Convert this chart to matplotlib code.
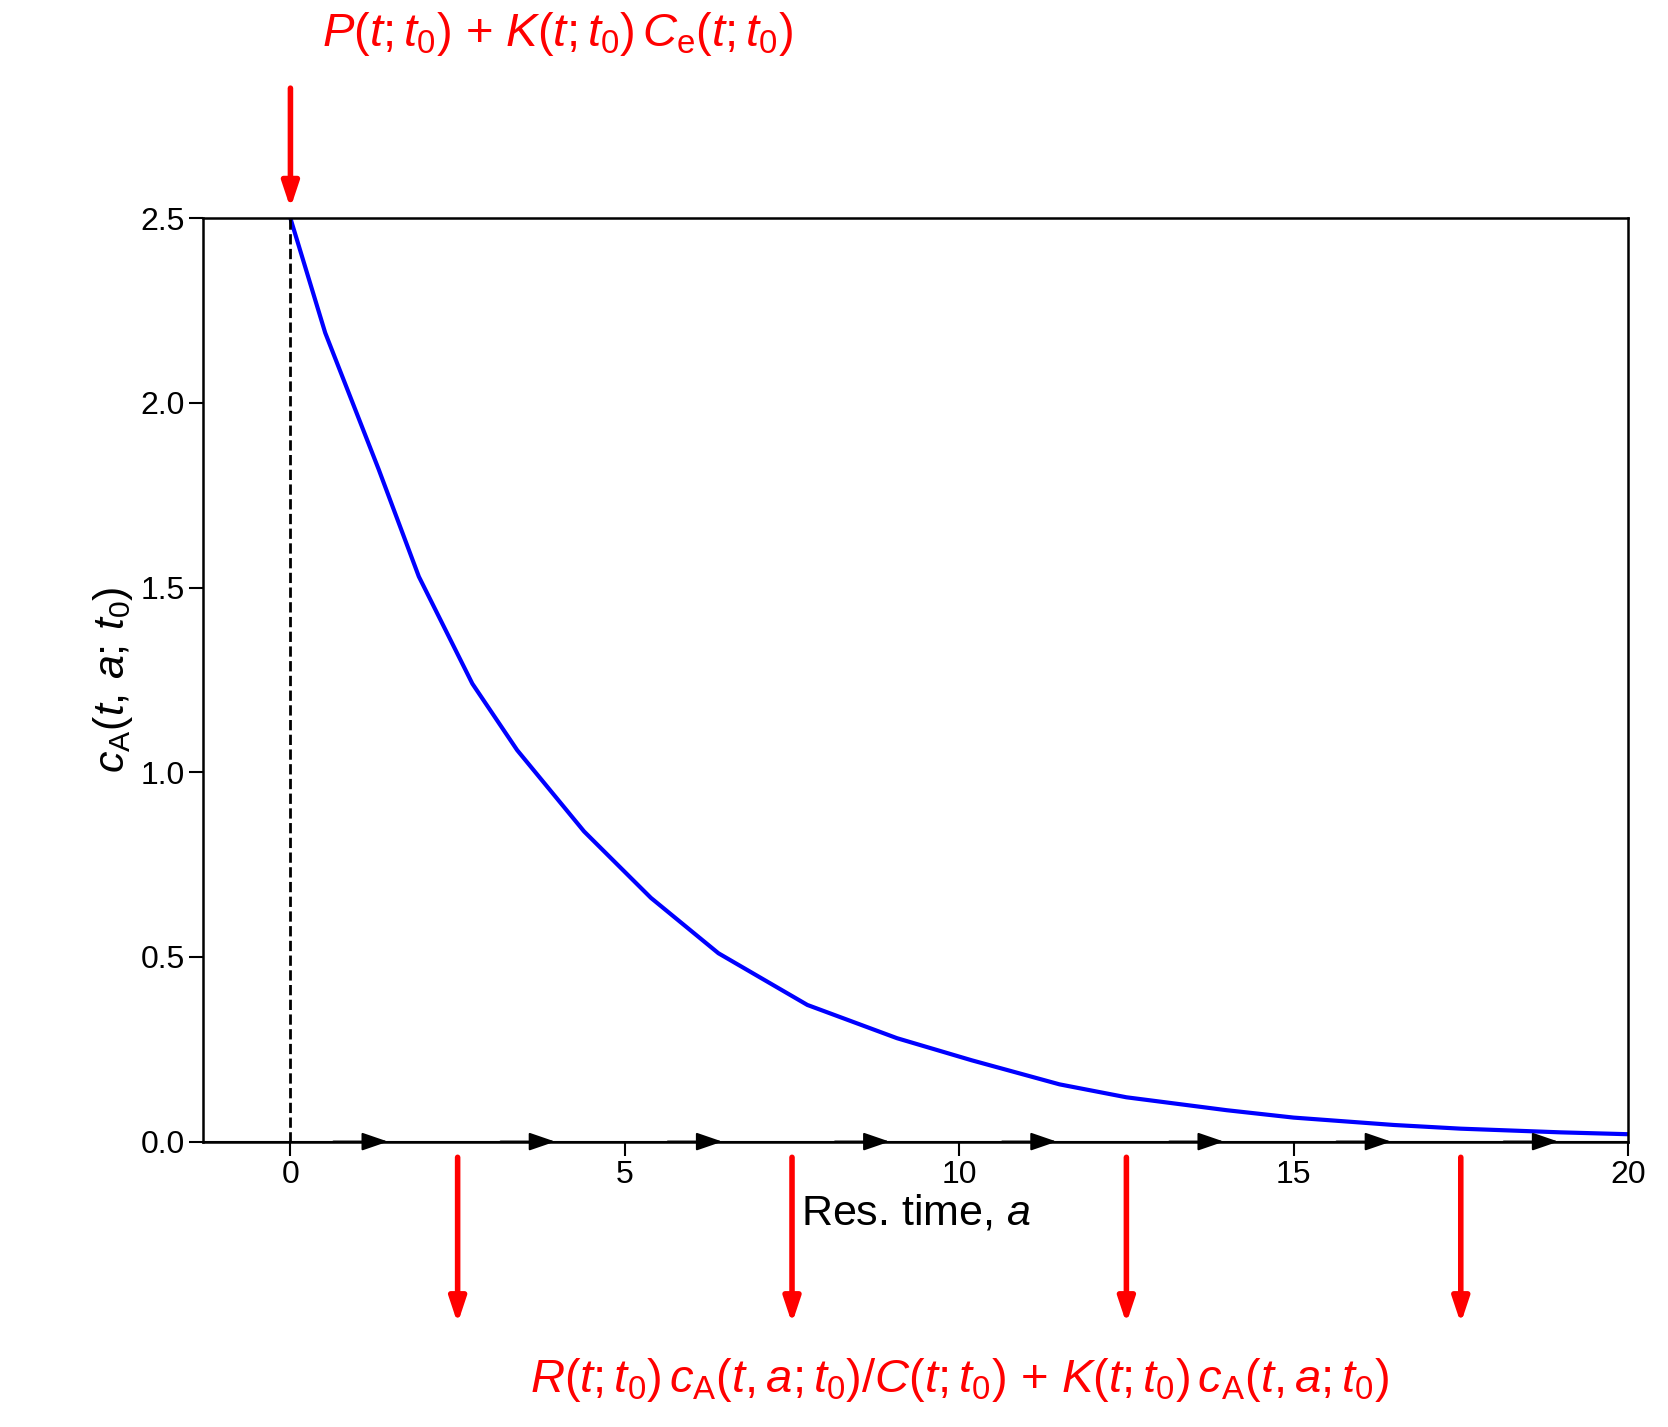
import matplotlib
matplotlib.use("Agg")
import matplotlib.pyplot as plt

plt.rcParams['font.family'] = 'Liberation Sans'
plt.rcParams['mathtext.fontset'] = 'custom'
plt.rcParams['mathtext.rm'] = 'Liberation Sans'
plt.rcParams['mathtext.it'] = 'Liberation Sans:italic'

res_time = [0, 0.52, 1.32, 1.92, 2.72, 3.39, 4.39, 5.39, 6.40, 7.73, 9.07, 10.19, 11.5, 12.5, 14.0, 15.0, 16.5, 17.5, 19.0, 20.0]
conc     = [2.5, 2.19, 1.82, 1.53, 1.24, 1.06, 0.84, 0.66, 0.51, 0.37, 0.28, 0.22, 0.155, 0.12, 0.085, 0.065, 0.045, 0.035, 0.025, 0.02]
flow_arrow_tips = [1.5, 4.0, 6.5, 9.0, 11.5, 14.0, 16.5, 19.0]
loss_arrow_x = [2.5, 7.5, 12.5, 17.5]

fig = plt.figure(figsize=(16.68, 14.27), dpi=100)
ax = fig.add_axes([0.122, 0.200, 0.854, 0.647])
ax.plot(res_time, conc, color='blue', lw=3)
ax.plot([0, 0], [0, 2.5], 'k--', lw=2)
ax.axhline(0, color='k', lw=1.5)
ax.set_xlim(-1.3, 20)
ax.set_ylim(0, 2.5)
ax.set_xticks([0, 5, 10, 15, 20])
ax.set_yticks([0, 0.5, 1.0, 1.5, 2.0, 2.5])
ax.set_yticklabels(['0.0', '0.5', '1.0', '1.5', '2.0', '2.5'])
ax.tick_params(labelsize=23, length=10, width=1.5)
for s in ax.spines.values():
    s.set_linewidth(1.8)
ax.set_xlabel('Res. time, $a$', fontsize=31, labelpad=2)
ax.set_ylabel(r'$c_\mathrm{A}(t,\, a;\, t_0)$', fontsize=31)

for tip in flow_arrow_tips:
    ax.annotate('', xy=(tip, 0), xytext=(tip - 0.9, 0),
                arrowprops=dict(arrowstyle='-|>,head_length=1.6,head_width=0.55', color='k', lw=1.5))

red = dict(arrowstyle='-|>,head_length=1.5,head_width=0.5', color='red', lw=4)
ax.annotate('', xy=(0, 2.52), xytext=(0, 2.86), arrowprops=red, annotation_clip=False)
for xv in loss_arrow_x:
    ax.annotate('', xy=(xv, -0.5), xytext=(xv, -0.035), arrowprops=red, annotation_clip=False)

ax.text(4.0, 3.0, r'$P(t;t_0)$ + $K(t;t_0)\,C_\mathrm{e}(t;t_0)$', color='red', fontsize=34,
        ha='center', va='center', clip_on=False)
ax.text(10.0, -0.645, r'$R(t;t_0)\,c_\mathrm{A}(t,a;t_0)/C(t;t_0)$ + $K(t;t_0)\,c_\mathrm{A}(t,a;t_0)$',
        color='red', fontsize=34, ha='center', va='center', clip_on=False)

fig.savefig('out.png', dpi=100)
